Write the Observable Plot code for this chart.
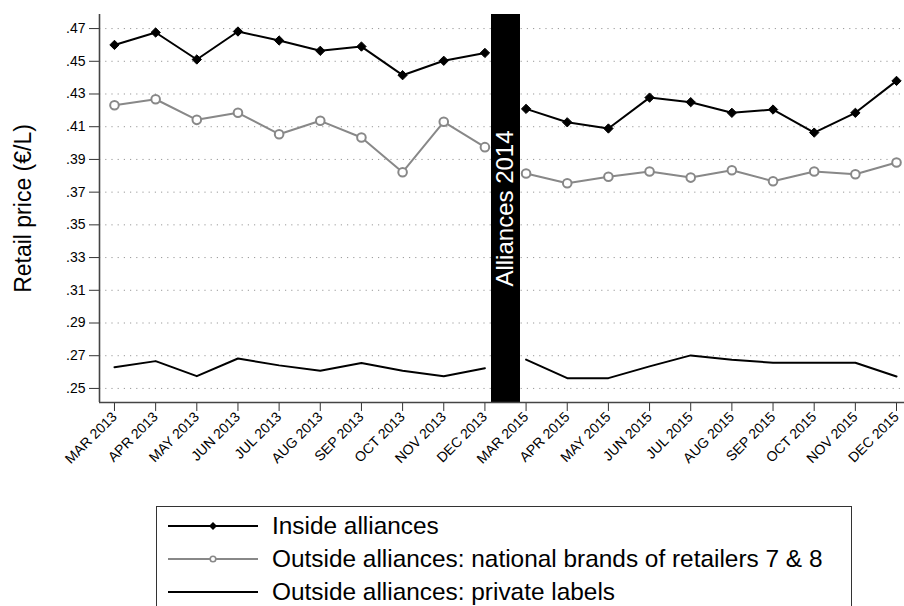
<!DOCTYPE html>
<html>
<head>
<meta charset="utf-8">
<script src="https://cdn.jsdelivr.net/npm/d3@7"></script>
<script src="https://cdn.jsdelivr.net/npm/@observablehq/plot@0.6"></script>
<style>
  html, body { margin: 0; padding: 0; background: #fff; }
  body { width: 904px; height: 606px; overflow: hidden; position: relative; font-family: "Liberation Sans", Arial, Helvetica, sans-serif; }
  #legend { position: absolute; left: 156px; top: 506px; width: 696px; height: 130px; border: 1px solid #333; box-sizing: border-box; }
  .row { position: absolute; left: 0; height: 30px; display: flex; align-items: center; }
  .row svg { margin-left: 11px; margin-right: 14px; }
  .row span { font-size: 24.4px; color: #000; }
</style>
</head>
<body>
<div id="chart"></div>
<div id="legend"></div>
<script>
const months = ["MAR 2013","APR 2013","MAY 2013","JUN 2013","JUL 2013","AUG 2013","SEP 2013","OCT 2013","NOV 2013","DEC 2013",
                "MAR 2015","APR 2015","MAY 2015","JUN 2015","JUL 2015","AUG 2015","SEP 2015","OCT 2015","NOV 2015","DEC 2015"];
const insideAlliances = [.4600,.4676,.4511,.4682,.4627,.4564,.4590,.4415,.4503,.4551,
                         .4209,.4127,.4089,.4278,.4250,.4185,.4205,.4064,.4185,.4380];
const nationalBrands  = [.4231,.4268,.4142,.4185,.4054,.4136,.4034,.3822,.4130,.3975,
                         .3814,.3754,.3794,.3826,.3789,.3834,.3767,.3826,.3809,.3881];
const privateLabels   = [.2630,.2667,.2575,.2683,.2641,.2608,.2655,.2608,.2575,.2624,
                         .2676,.2563,.2563,.2635,.2702,.2676,.2657,.2657,.2657,.2573];
const yTicks = [.25,.27,.29,.31,.33,.35,.37,.39,.41,.43,.45,.47];
const seriesNames = ["Inside alliances","Outside alliances: national brands of retailers 7 & 8","Outside alliances: private labels"];
const gapLabel = "Alliances 2014";
const yTitle = "Retail price (€/L)";

const firstAfter = months.findIndex(m => m.endsWith("2015"));
const gapPos = firstAfter - 0.5;
const rows = months.map((m, i) => ({
  i, m, period: i < firstAfter ? "before" : "after",
  inside: insideAlliances[i], national: nationalBrands[i], priv: privateLabels[i]
}));

const font = "'Liberation Sans', Arial, Helvetica, sans-serif";
const xDomain = [-0.364, months.length - 1 + 0.194];
const yDomain = [0.2414, 0.4786];
const fmt = v => d3.format(".2f")(v).replace(/^0/, "");

const chart = Plot.plot({
  width: 904,
  height: 490,
  marginLeft: 99,
  marginRight: 0,
  marginTop: 14,
  marginBottom: 88,
  style: { fontFamily: font, fontSize: "14px", color: "#000", background: "#fff" },
  x: { type: "linear", domain: xDomain },
  y: { domain: yDomain },
  marks: [
    Plot.gridY(yTicks, { stroke: "#999", strokeOpacity: 1, strokeWidth: 1, strokeDasharray: "1.2,5" }),
    Plot.ruleX([gapPos], { stroke: "#000", strokeWidth: 29 }),
    Plot.text([gapLabel], { x: gapPos, rotate: -90, fill: "#fff", fontSize: 24, fontFamily: font }),
    Plot.line(rows, { x: "i", y: "priv", z: "period", stroke: "#000", strokeWidth: 2 }),
    Plot.line(rows, { x: "i", y: "national", z: "period", stroke: "#888", strokeWidth: 2 }),
    Plot.dot(rows, { x: "i", y: "national", r: 4.3, stroke: "#888", strokeWidth: 2, fill: "#fff" }),
    Plot.line(rows, { x: "i", y: "inside", z: "period", stroke: "#000", strokeWidth: 2 }),
    Plot.dot(rows, { x: "i", y: "inside", symbol: "diamond2", r: 4.2, fill: "#000", stroke: "#000", strokeWidth: 1 }),
    Plot.axisY(yTicks, { tickFormat: fmt, tickSize: 10, tickPadding: 4, fontSize: 14, stroke: "#333", label: null }),
    Plot.text([yTitle], { frameAnchor: "left", textAnchor: "middle", dx: -76, rotate: -90, fontSize: 23, fontFamily: font, fill: "#000" }),
    Plot.axisX(d3.range(months.length), { tickFormat: i => months[i], tickRotate: -45, tickSize: 9, tickPadding: 3, fontSize: 14, stroke: "#333", label: null }),
    Plot.ruleX([xDomain[0]], { stroke: "#444", strokeWidth: 1.6 }),
    Plot.ruleY([yDomain[0]], { stroke: "#444", strokeWidth: 1.6 })
  ]
});
document.getElementById("chart").appendChild(chart);

// legend
const legend = document.getElementById("legend");
const swatches = [
  { stroke: "#000", marker: "diamond" },
  { stroke: "#888", marker: "circle" },
  { stroke: "#000", marker: null }
];
seriesNames.forEach((name, k) => {
  const row = document.createElement("div");
  row.className = "row";
  row.style.top = (4 + k * 33) + "px";
  const s = swatches[k];
  let mk = "";
  if (s.marker === "diamond") mk = `<path d="M45,6 L49,10 L45,14 L41,10 Z" fill="#000"/>`;
  if (s.marker === "circle") mk = `<circle cx="45" cy="10" r="2.8" fill="#fff" stroke="#888" stroke-width="1.6"/>`;
  row.innerHTML = `<svg width="90" height="20"><line x1="0" x2="90" y1="10" y2="10" stroke="${s.stroke}" stroke-width="2"/>${mk}</svg><span>${name}</span>`;
  legend.appendChild(row);
});
</script>
</body>
</html>
